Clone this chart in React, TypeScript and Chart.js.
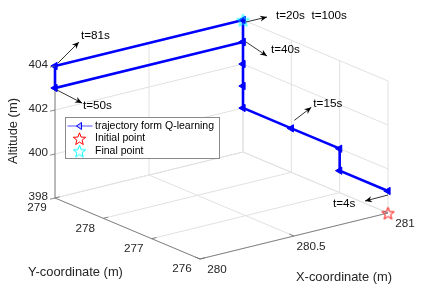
import React, { useEffect, useRef } from "react";
import { Chart, registerables } from "chart.js";
Chart.register(...registerables);

const W = 429;
const H = 291;

// ---- axis limits and ticks ----
const xLim = [280, 281];
const yLim = [276, 279];
const zLim = [398, 404];
const xTicks = [280, 280.5, 281];
const yTicks = [276, 277, 278, 279];
const zTicks = [398, 400, 402, 404];
const xTickLabels = ["280", "280.5", "281"];
const yTickLabels = ["276", "277", "278", "279"];
const zTickLabels = ["398", "400", "402", "404"];

// ---- trajectory (x, y, z) ----
const trajX = [281, 281, 281, 281, 281, 281, 281, 281, 281, 281, 280, 280, 281];
const trajY = [276, 277, 277, 278, 279, 279, 279, 279, 279, 279, 279, 279, 279];
const trajZ = [399, 399, 400, 400, 400, 401, 402, 403, 404, 403, 403, 404, 404];

const initialPoint = [281, 276, 398];
const finalPoint = [281, 279, 404];

// ---- annotations (text, index of trajectory point they refer to) ----
const annLabels = ["t=4s", "t=15s", "t=20s  t=100s", "t=40s", "t=50s", "t=81s"];
const annAnchor = [0, 3, 8, 9, 10, 11];

const legendLabels = ["trajectory form Q-learning", "Initial point", "Final point"];

// ---- camera (orthographic view of the plot box) ----
const CAM = {
  o: [200, 259],
  ux: [188, -46],
  uy: [-48.33, -20.33],
  uz: [0, -22],
};
function project(x: number, y: number, z: number) {
  const dx = x - xLim[0];
  const dy = y - yLim[0];
  const dz = z - zLim[0];
  return {
    x: CAM.o[0] + dx * CAM.ux[0] + dy * CAM.uy[0] + dz * CAM.uz[0],
    y: CAM.o[1] + dx * CAM.ux[1] + dy * CAM.uy[1] + dz * CAM.uz[1],
  };
}

// annotation layout: arrow tail, arrow head, text position (offsets from anchor)
const ANN_LAYOUT = [
  { tail: [0, 4], head: [-23, 10], text: [-55, 13] },
  { tail: [3, -8], head: [20, -21], text: [22, -25] },
  { tail: [3, 2], head: [24, -3], text: [33, -4] },
  { tail: [3, 0], head: [24, 14], text: [28, 8] },
  { tail: [2, 2], head: [27, 15], text: [28, 18] },
  { tail: [3, -3], head: [24, -24], text: [26, -30] },
];

const FONT = '"Liberation Sans", Arial, Helvetica, sans-serif';
const GRID = "#e1e1e1";
const AXIS = "#6a6a6a";
const TXT = "#262626";

function starPath(ctx: CanvasRenderingContext2D, cx: number, cy: number, R: number) {
  const r = R * 0.42;
  ctx.beginPath();
  for (let i = 0; i < 10; i++) {
    const a = -Math.PI / 2 + (i * Math.PI) / 5;
    const rr = i % 2 === 0 ? R : r;
    const px = cx + rr * Math.cos(a);
    const py = cy + rr * Math.sin(a);
    if (i === 0) ctx.moveTo(px, py);
    else ctx.lineTo(px, py);
  }
  ctx.closePath();
}

function makeStar(color: string, R: number) {
  const c = document.createElement("canvas");
  const s = Math.ceil(R * 2 + 4);
  c.width = s;
  c.height = s;
  const g = c.getContext("2d")!;
  starPath(g, s / 2, s / 2 + 0.8, R);
  g.strokeStyle = color;
  g.lineWidth = 1;
  g.stroke();
  return c;
}

function arrow(ctx: CanvasRenderingContext2D, x1: number, y1: number, x2: number, y2: number) {
  ctx.strokeStyle = "#000";
  ctx.fillStyle = "#000";
  ctx.lineWidth = 0.8;
  ctx.beginPath();
  ctx.moveTo(x1, y1);
  ctx.lineTo(x2, y2);
  ctx.stroke();
  const a = Math.atan2(y2 - y1, x2 - x1);
  const L = 7;
  const hw = 3;
  const bx = x2 - L * Math.cos(a);
  const by = y2 - L * Math.sin(a);
  ctx.beginPath();
  ctx.moveTo(x2, y2);
  ctx.lineTo(bx + hw * Math.sin(a), by - hw * Math.cos(a));
  ctx.lineTo(bx + 2.2 * Math.cos(a), by + 2.2 * Math.sin(a));
  ctx.lineTo(bx - hw * Math.sin(a), by + hw * Math.cos(a));
  ctx.closePath();
  ctx.fill();
}

export default function App() {
  const ref = useRef<HTMLCanvasElement>(null);

  useEffect(() => {
    document.body.style.margin = "0";
    const canvas = ref.current!;
    const seg = (a: number[], b: number[], color: string, width: number) => ({
      data: [project(a[0], a[1], a[2]), project(b[0], b[1], b[2])],
      showLine: true,
      borderColor: color,
      borderWidth: width,
      pointRadius: 0,
      fill: false,
    });

    const grid: any[] = [];
    const z0 = zLim[0];
    // floor
    xTicks.forEach((x) => grid.push(seg([x, yLim[0], z0], [x, yLim[1], z0], GRID, 1)));
    yTicks.forEach((y) => grid.push(seg([xLim[0], y, z0], [xLim[1], y, z0], GRID, 1)));
    // back wall y = max
    xTicks.forEach((x) => grid.push(seg([x, yLim[1], zLim[0]], [x, yLim[1], zLim[1]], GRID, 1)));
    zTicks.forEach((z) => grid.push(seg([xLim[0], yLim[1], z], [xLim[1], yLim[1], z], GRID, 1)));
    // back wall x = max
    yTicks.forEach((y) => grid.push(seg([xLim[1], y, zLim[0]], [xLim[1], y, zLim[1]], GRID, 1)));
    zTicks.forEach((z) => grid.push(seg([xLim[1], yLim[0], z], [xLim[1], yLim[1], z], GRID, 1)));

    const axes = [
      seg([xLim[0], yLim[1], zLim[0]], [xLim[0], yLim[1], zLim[1]], AXIS, 0.8),
      seg([xLim[0], yLim[0], zLim[0]], [xLim[0], yLim[1], zLim[0]], AXIS, 0.8),
      seg([xLim[0], yLim[0], zLim[0]], [xLim[1], yLim[0], zLim[0]], AXIS, 0.8),
    ];

    const traj = trajX.map((x, i) => project(x, trajY[i], trajZ[i]));
    const redStar = makeStar("#ff0000", 6.5);
    const cyanStar = makeStar("#00ffff", 6.5);

    const datasets: any[] = [
      {
        label: legendLabels[2],
        data: [project(finalPoint[0], finalPoint[1], finalPoint[2])],
        pointStyle: cyanStar,
        pointRadius: 7,
        showLine: false,
      },
      {
        label: legendLabels[1],
        data: [project(initialPoint[0], initialPoint[1], initialPoint[2])],
        pointStyle: redStar,
        pointRadius: 7,
        showLine: false,
      },
      {
        label: legendLabels[0],
        data: traj,
        showLine: true,
        borderColor: "#0000ff",
        backgroundColor: "#0000ff",
        borderWidth: 2.6,
        pointStyle: "triangle",
        pointRotation: 270,
        pointRadius: 4.2,
        pointBorderWidth: 1,
        pointBorderColor: "#0000ff",
        pointBackgroundColor: "#0000ff",
        tension: 0,
        fill: false,
      },
      ...axes,
      ...grid,
    ];

    const overlay = {
      id: "overlay",
      afterDraw(chart: any) {
        const ctx: CanvasRenderingContext2D = chart.ctx;
        const sx = chart.scales.x;
        const sy = chart.scales.y;
        const P = (x: number, y: number, z: number) => {
          const p = project(x, y, z);
          return [sx.getPixelForValue(p.x), sy.getPixelForValue(p.y)];
        };
        ctx.save();
        // tick marks
        ctx.strokeStyle = AXIS;
        ctx.lineWidth = 0.8;
        zTicks.forEach((z) => {
          const [px, py] = P(xLim[0], yLim[1], z);
          ctx.beginPath();
          ctx.moveTo(px, py);
          ctx.lineTo(px - 5, py + 1.2);
          ctx.stroke();
        });
        yTicks.forEach((y) => {
          const [px, py] = P(xLim[0], y, zLim[0]);
          ctx.beginPath();
          ctx.moveTo(px, py);
          ctx.lineTo(px + 4.8, py - 1.2);
          ctx.stroke();
        });
        xTicks.forEach((x) => {
          const [px, py] = P(x, yLim[0], zLim[0]);
          ctx.beginPath();
          ctx.moveTo(px, py);
          ctx.lineTo(px - 4.6, py - 1.9);
          ctx.stroke();
        });

        // tick labels
        ctx.fillStyle = TXT;
        ctx.font = `11.7px ${FONT}`;
        ctx.textBaseline = "middle";
        ctx.textAlign = "right";
        zTicks.forEach((z, i) => {
          const [px, py] = P(xLim[0], yLim[1], z);
          ctx.fillText(zTickLabels[i], px - 7, py - 1);
        });
        ctx.textAlign = "center";
        yTicks.forEach((y, i) => {
          const [px, py] = P(xLim[0], y, zLim[0]);
          ctx.fillText(yTickLabels[i], px - 18, py + 10);
        });
        xTicks.forEach((x, i) => {
          const [px, py] = P(x, yLim[0], zLim[0]);
          ctx.fillText(xTickLabels[i], px + 17, py + 11);
        });

        // axis labels
        ctx.font = `12.9px ${FONT}`;
        {
          const [px, py] = P((xLim[0] + xLim[1]) / 2, yLim[0], zLim[0]);
          ctx.fillText("X-coordinate (m)", px + 50, py + 41);
        }
        {
          const [px, py] = P(xLim[0], (yLim[0] + yLim[1]) / 2, zLim[0]);
          ctx.fillText("Y-coordinate (m)", px - 52, py + 44);
        }
        {
          const [px, py] = P(xLim[0], yLim[1], (zLim[0] + zLim[1]) / 2);
          ctx.save();
          ctx.translate(px - 42, py - 1);
          ctx.rotate(-Math.PI / 2);
          ctx.fillText("Altitude (m)", 0, 0);
          ctx.restore();
        }

        // annotations
        ctx.font = `11.7px ${FONT}`;
        ctx.textAlign = "left";
        annLabels.forEach((label, i) => {
          const k = annAnchor[i];
          const [ax, ay] = P(trajX[k], trajY[k], trajZ[k]);
          const L = ANN_LAYOUT[i];
          arrow(ctx, ax + L.tail[0], ay + L.tail[1], ax + L.head[0], ay + L.head[1]);
          ctx.fillStyle = "#000";
          ctx.fillText(label, ax + L.text[0], ay + L.text[1]);
        });

        // legend
        const lx = 65.5;
        const ly = 117.5;
        const lw = 154;
        const lh = 41;
        ctx.fillStyle = "#fff";
        ctx.fillRect(lx, ly, lw, lh);
        ctx.strokeStyle = "#8a8a8a";
        ctx.lineWidth = 1;
        ctx.strokeRect(lx, ly, lw, lh);
        const rows = [ly + 8.5, ly + 21, ly + 33.5];
        // row 1: line + triangle
        ctx.strokeStyle = "rgba(0,0,255,0.45)";
        ctx.lineWidth = 1.5;
        ctx.beginPath();
        ctx.moveTo(lx + 2, rows[0]);
        ctx.lineTo(lx + 27, rows[0]);
        ctx.stroke();
        ctx.beginPath();
        ctx.moveTo(lx + 11, rows[0]);
        ctx.lineTo(lx + 16, rows[0] - 3.5);
        ctx.lineTo(lx + 16, rows[0] + 3.5);
        ctx.closePath();
        ctx.fillStyle = "rgba(190,190,255,1)";
        ctx.fill();
        ctx.strokeStyle = "#0000ff";
        ctx.lineWidth = 1;
        ctx.stroke();
        // stars
        ctx.drawImage(redStar, lx + 14 - redStar.width / 2, rows[1] - redStar.height / 2);
        ctx.drawImage(cyanStar, lx + 14 - cyanStar.width / 2, rows[2] - cyanStar.height / 2);
        ctx.fillStyle = "#000";
        ctx.font = `10.5px ${FONT}`;
        ctx.textAlign = "left";
        legendLabels.forEach((t, i) => ctx.fillText(t, lx + 29.5, rows[i]));
        ctx.restore();
      },
    };

    const chart = new Chart(canvas, {
      type: "scatter",
      data: { datasets },
      options: {
        animation: false,
        responsive: false,
        events: [],
        layout: { padding: 0, autoPadding: false },
        plugins: { legend: { display: false }, tooltip: { enabled: false } },
        scales: {
          x: { type: "linear", min: 0, max: W, display: false },
          y: { type: "linear", min: 0, max: H, reverse: true, display: false },
        },
      },
      plugins: [overlay],
    } as any);
    return () => chart.destroy();
  }, []);

  return <canvas ref={ref} width={W} height={H} style={{ display: "block", width: W, height: H }} />;
}
